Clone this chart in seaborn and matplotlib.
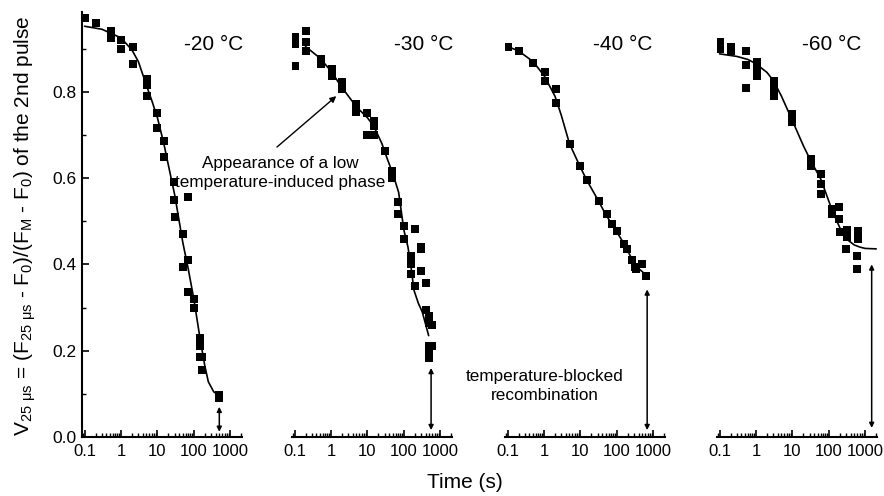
import numpy as np
import pandas as pd
import matplotlib
matplotlib.use("Agg")
import matplotlib.pyplot as plt
import matplotlib.ticker as mticker
import seaborn as sns

# Temperature panels
temps = ["-20 °C", "-30 °C", "-40 °C", "-60 °C"]

t_m20 = [0.1, 0.21, 0.52, 0.52, 1.0, 1.0, 2.1, 2.1, 5.1, 5.1, 5.1, 10, 10, 15, 15,
         28, 28, 69, 31, 50, 50, 68, 68, 100, 100, 150, 150, 150, 165, 170, 500, 500]
v_m20 = [0.97, 0.96, 0.94, 0.925, 0.92, 0.90, 0.905, 0.865, 0.83, 0.815, 0.79, 0.75, 0.715, 0.686, 0.65,
         0.59, 0.55, 0.556, 0.51, 0.47, 0.395, 0.41, 0.337, 0.32, 0.30, 0.23, 0.21, 0.186, 0.186, 0.156, 0.098, 0.09]

t_m30 = [0.1, 0.1, 0.1, 0.2, 0.2, 0.2, 0.52, 0.52, 1.05, 1.05, 2.0, 2.0, 4.8, 4.8, 9.5, 15, 15, 15, 9.5,
         30, 47, 47, 69, 69, 100, 100, 200, 300, 160, 160, 160, 300, 300, 400, 200, 400, 480, 480, 590,
         480, 480, 480, 590]
v_m30 = [0.928, 0.91, 0.86, 0.94, 0.916, 0.895, 0.877, 0.865, 0.853, 0.837, 0.823, 0.807, 0.772, 0.753, 0.75,
         0.733, 0.72, 0.70, 0.70, 0.663, 0.616, 0.60, 0.544, 0.516, 0.49, 0.46, 0.483, 0.44, 0.42, 0.40, 0.377,
         0.435, 0.384, 0.357, 0.35, 0.295, 0.28, 0.265, 0.26, 0.21, 0.197, 0.184, 0.21]

t_m40 = [0.1, 0.2, 0.5, 1.05, 1.05, 2.1, 2.1, 5.1, 10, 15, 32, 53, 74, 100, 160, 190, 260, 316, 490, 340, 650]
v_m40 = [0.905, 0.895, 0.867, 0.846, 0.826, 0.807, 0.775, 0.68, 0.628, 0.595, 0.547, 0.516, 0.493, 0.477,
         0.447, 0.435, 0.41, 0.395, 0.40, 0.39, 0.372]

t_m60 = [0.1, 0.1, 0.21, 0.21, 0.52, 0.52, 0.52, 1.05, 1.05, 1.05, 3.1, 3.1, 3.1, 10, 10, 32, 32,
         60, 60, 60, 120, 120, 190, 190, 316, 316, 630, 630, 200, 590, 590, 300]
v_m60 = [0.916, 0.90, 0.905, 0.895, 0.895, 0.863, 0.81, 0.87, 0.85, 0.837, 0.826, 0.807, 0.79, 0.749, 0.73,
         0.644, 0.628, 0.61, 0.586, 0.563, 0.528, 0.516, 0.533, 0.505, 0.48, 0.463, 0.477, 0.458, 0.475,
         0.42, 0.39, 0.435]

# Fitted curves
tf_m20 = [0.1, 0.3, 1, 2, 3, 5, 7, 10, 15, 20, 30, 50, 70, 100, 150, 200, 250, 350, 500]
vf_m20 = [0.952, 0.945, 0.925, 0.897, 0.87, 0.815, 0.78, 0.74, 0.68, 0.63, 0.56, 0.45, 0.39, 0.32, 0.225,
          0.165, 0.128, 0.105, 0.095]

tf_m30 = [0.2, 0.5, 1, 2, 5, 10, 15, 25, 35, 50, 72, 100, 130, 160, 190, 250, 320, 400, 480]
vf_m30 = [0.905, 0.878, 0.848, 0.81, 0.765, 0.74, 0.72, 0.68, 0.645, 0.61, 0.567, 0.48, 0.44, 0.39, 0.34,
          0.31, 0.29, 0.26, 0.235]

tf_m40 = [0.1, 0.2, 0.5, 1, 2, 3, 5, 10, 15, 30, 50, 100, 160, 250, 400, 650]
vf_m40 = [0.905, 0.895, 0.87, 0.838, 0.79, 0.745, 0.68, 0.625, 0.595, 0.55, 0.515, 0.475, 0.447, 0.415,
          0.39, 0.375]

tf_m60 = [0.1, 0.3, 0.6, 1, 2, 3, 5, 10, 20, 32, 60, 120, 200, 316, 500, 720, 1000, 2000]
vf_m60 = [0.888, 0.882, 0.875, 0.865, 0.845, 0.826, 0.79, 0.733, 0.675, 0.64, 0.598, 0.528, 0.485, 0.458,
          0.445, 0.44, 0.437, 0.436]

# Double arrows (time, lower V, upper V)
arrow_t = [500, 560, 680, 1500]
arrow_lo = [0.012, 0.016, 0.016, 0.021]
arrow_hi = [0.07, 0.16, 0.342, 0.40]

points = [(t_m20, v_m20), (t_m30, v_m30), (t_m40, v_m40), (t_m60, v_m60)]
fits = [(tf_m20, vf_m20), (tf_m30, vf_m30), (tf_m40, vf_m40), (tf_m60, vf_m60)]

sns.set_theme(style="ticks")
plt.rcParams["font.family"] = ["Liberation Sans", "DejaVu Sans"]
plt.rcParams["mathtext.fontset"] = "custom"
plt.rcParams["mathtext.rm"] = "Liberation Sans"
plt.rcParams["mathtext.default"] = "regular"
for key in ["text.color", "axes.labelcolor", "axes.edgecolor", "xtick.color", "ytick.color"]:
    plt.rcParams[key] = "black"

fig = plt.figure(figsize=(8.84, 4.96), dpi=100)
W, H = 884, 496
lefts = [82, 292, 505, 717]
label_pos = [(214, 45), (424, 45), (623, 44), (832, 45)]

for i, left in enumerate(lefts):
    ax = fig.add_axes([left / W, 59 / H, 160 / W, 425 / H])
    df_p = pd.DataFrame({"t": points[i][0], "v": points[i][1]})
    df_f = pd.DataFrame({"t": fits[i][0], "v": fits[i][1]})
    sns.lineplot(data=df_f, x="t", y="v", ax=ax, color="black", linewidth=1.2, zorder=2)
    sns.scatterplot(data=df_p, x="t", y="v", ax=ax, marker="s", s=36, color="black",
                    linewidth=0, zorder=3)
    ax.set_xscale("log")
    ax.set_xlim(0.085, 2100)
    ax.set_ylim(0, 0.985)
    ax.set_xticks([0.1, 1, 10, 100, 1000])
    ax.xaxis.set_major_formatter(mticker.FixedFormatter(["0.1", "1", "10", "100", "1000"]))
    ax.xaxis.set_minor_locator(mticker.LogLocator(base=10, subs=np.arange(2, 10), numticks=20))
    ax.xaxis.set_minor_formatter(mticker.NullFormatter())
    ax.tick_params(axis="x", which="major", direction="in", length=5, width=1.2, labelsize=12, pad=5)
    ax.tick_params(axis="x", which="minor", direction="in", length=3, width=1)
    ax.set_xlabel("")
    ax.set_ylabel("")
    for s in ["top", "right"]:
        ax.spines[s].set_visible(False)
    ax.spines["bottom"].set_linewidth(1.5)
    if i == 0:
        ax.spines["left"].set_linewidth(1.5)
        ax.set_yticks([0.0, 0.2, 0.4, 0.6, 0.8])
        ax.yaxis.set_major_formatter(mticker.FormatStrFormatter("%.1f"))
        ax.yaxis.set_minor_locator(mticker.MultipleLocator(0.1))
        ax.tick_params(axis="y", which="major", direction="in", length=5, width=1.2, labelsize=12.5, pad=4)
        ax.tick_params(axis="y", which="minor", direction="in", length=3, width=1)
    else:
        ax.spines["left"].set_visible(False)
        ax.yaxis.set_visible(False)
    ax.patch.set_alpha(0)
    ax.annotate("", xy=(arrow_t[i], arrow_lo[i]), xytext=(arrow_t[i], arrow_hi[i]),
                arrowprops=dict(arrowstyle="<|-|>", color="black", lw=1.1,
                                mutation_scale=7, shrinkA=0, shrinkB=0))
    fig.text(label_pos[i][0] / W, 1 - label_pos[i][1] / H, temps[i], fontsize=15,
             ha="center", va="center")
    if i == 1:
        ax.annotate("", xy=(1.4, 0.79), xytext=(277 / W, 1 - 147 / H),
                    textcoords="figure fraction", annotation_clip=False,
                    arrowprops=dict(arrowstyle="-|>", color="black", lw=1,
                                    mutation_scale=9, shrinkA=0, shrinkB=0))

fig.text(280 / W, 1 - 173 / H, "Appearance of a low\ntemperature-induced phase",
         fontsize=12.3, ha="center", va="center", multialignment="center", linespacing=1.3)
fig.text(545 / W, 1 - 386 / H, "temperature-blocked\nrecombination",
         fontsize=12.3, ha="center", va="center", multialignment="center", linespacing=1.3)

fig.text(465 / W, 1 - 483 / H, "Time (s)", fontsize=15, ha="center", va="center")
fig.text(25 / W, 1 - 226 / H,
         r"V$_{25\ μs}$ = (F$_{25\ μs}$ - F$_0$)/(F$_M$ - F$_0$) of the 2nd pulse",
         fontsize=15, rotation=90, ha="center", va="center")

fig.savefig("out.png", dpi=100)
